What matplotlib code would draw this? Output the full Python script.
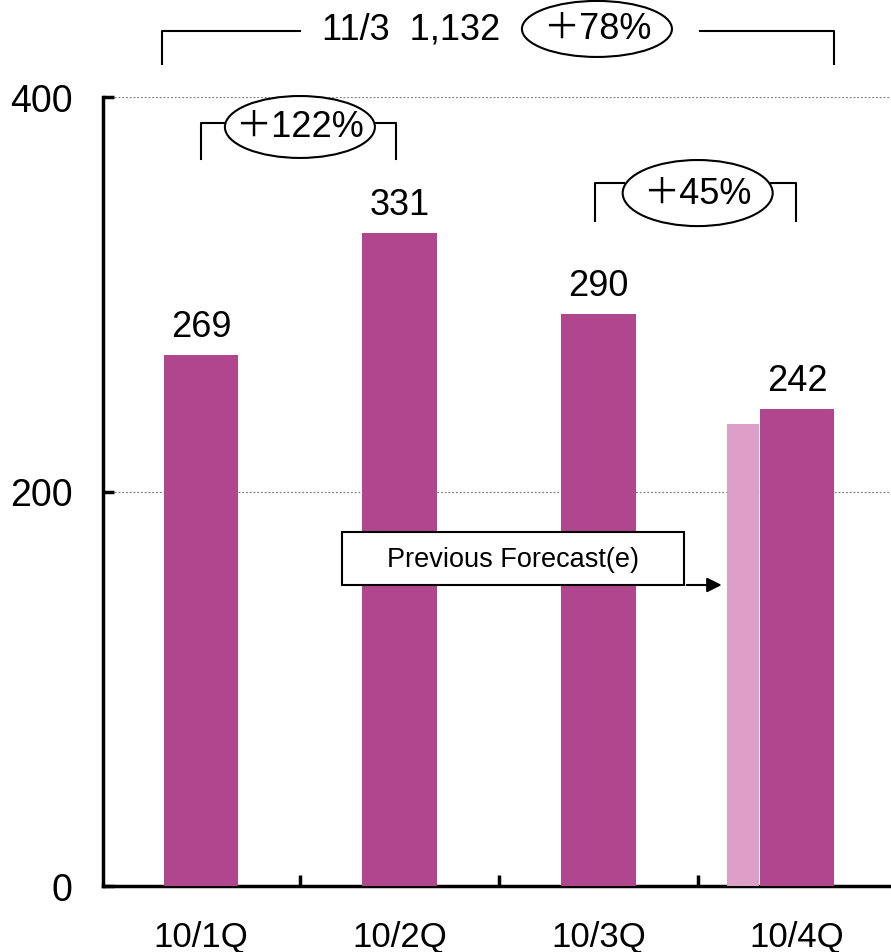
import matplotlib
matplotlib.use("Agg")
import matplotlib.pyplot as plt
from matplotlib.patches import Ellipse, Rectangle
from matplotlib import font_manager

categories = ["10/1Q", "10/2Q", "10/3Q", "10/4Q"]
values = [269, 331, 290, 242]
forecast_value = 234
yticks = [0, 200, 400]
growth_12 = "＋122%"
growth_34 = "＋45%"
total_label = "11/3  1,132"
total_growth = "＋78%"
forecast_label = "Previous Forecast(e)"

names = {f.name for f in font_manager.fontManager.ttflist}
fam = [n for n in ["Liberation Sans Narrow", "Liberation Sans", "DejaVu Sans"] if n in names]
fam = fam + ["Noto Sans CJK JP", "DejaVu Sans"]
plt.rcParams["font.family"] = fam

main_color = "#B0478E"
light_color = "#DCA0C8"

fig = plt.figure(figsize=(8.91, 9.53), dpi=100)
ax = fig.add_axes([103/891, 1-887/953, 1-103/891, (887-98)/953])
ax.set_xlim(-0.493, 3.473)
ax.set_ylim(0, 400)

for y in [200, 400]:
    ax.axhline(y, color="#808080", linestyle=(0, (1.5, 1.5)), linewidth=0.9, zorder=1)

x = list(range(len(categories)))
ax.bar(x, values, width=0.375, color=main_color, zorder=3)
ax.bar(2.728, forecast_value, width=0.161, color=light_color, zorder=3)

for xi, v in zip(x, values):
    ax.annotate(str(v), (xi, v), xytext=(0, 8), textcoords="offset points",
                ha="center", va="bottom", fontsize=26, color="black")

ax.spines["top"].set_visible(False)
ax.spines["right"].set_visible(False)
ax.spines["left"].set_linewidth(2.5)
ax.spines["bottom"].set_linewidth(2.5)
ax.set_yticks(yticks)
ax.set_yticklabels([str(t) for t in yticks], fontsize=27)
ax.tick_params(axis="y", direction="in", length=8, width=2.5, pad=22)
ax.set_xticks([0.5, 1.5, 2.5])
ax.set_xticklabels([])
ax.tick_params(axis="x", direction="in", length=8, width=2.5)
for xi, c in zip(x, categories):
    ax.text(xi, -25.5, c, ha="center", va="center", fontsize=25,
            transform=ax.transData, clip_on=False)

lw = 1.5
def line(xs, ys):
    ax.plot(xs, ys, color="black", linewidth=lw, clip_on=False, zorder=5)

# +122% bracket
line([0, 0, 0.14], [368.6, 386.8, 386.8])
line([0.86, 0.98, 0.98], [386.8, 386.8, 368.6])
ax.add_patch(Ellipse((0.498, 384.8), 0.755, 31.4, facecolor="white", edgecolor="black",
                     linewidth=lw, zorder=6, clip_on=False))
ax.text(0.498, 384.8, growth_12, ha="center", va="center", fontsize=26, zorder=7)

# +45% bracket
line([1.983, 1.983, 2.13], [337.1, 356.4, 356.4])
line([2.87, 2.993, 2.993], [356.4, 356.4, 337.1])
ax.add_patch(Ellipse((2.5, 351.3), 0.755, 33.5, facecolor="white", edgecolor="black",
                     linewidth=lw, zorder=6, clip_on=False))
ax.text(2.5, 351.3, growth_34, ha="center", va="center", fontsize=26, zorder=7)

# top bracket
line([-0.196, -0.196, 0.498], [416.7, 433.5, 433.5])
line([2.511, 3.186, 3.186], [433.5, 433.5, 416.7])
ax.text(1.057, 434.5, total_label, ha="center", va="center", fontsize=26, clip_on=False)
ax.add_patch(Ellipse((1.993, 434.5), 0.755, 28.4, facecolor="white", edgecolor="black",
                     linewidth=lw, zorder=6, clip_on=False))
ax.text(1.993, 434.5, total_growth, ha="center", va="center", fontsize=26, zorder=7)

# previous forecast box
ax.add_patch(Rectangle((0.710, 152.6), 2.431-0.710, 179.5-152.6, facecolor="white",
                       edgecolor="black", linewidth=lw, zorder=6))
ax.text(1.57, 166, forecast_label, ha="center", va="center", fontsize=19.5, zorder=7)
ax.annotate("", xy=(2.635, 152.6), xytext=(2.431, 152.6),
            arrowprops=dict(arrowstyle="-|>", color="black", lw=lw, mutation_scale=22),
            zorder=7)

fig.savefig("out.png", dpi=100)
